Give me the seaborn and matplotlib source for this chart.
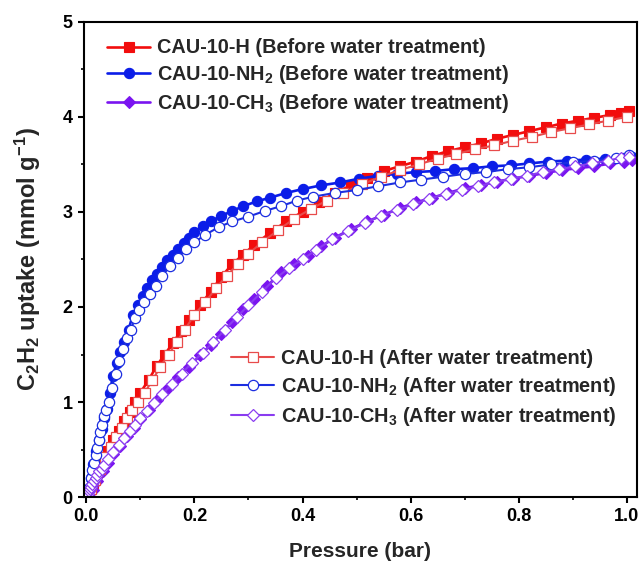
import matplotlib
matplotlib.use("Agg")
import matplotlib.pyplot as plt
import seaborn as sns
from matplotlib.ticker import MultipleLocator, FormatStrFormatter

# C2H2 adsorption isotherms, before / after water treatment
h_before_p = [0.005, 0.012, 0.02, 0.03, 0.04, 0.05, 0.06, 0.07, 0.08, 0.09, 0.10, 0.115, 0.13, 0.145,
              0.16, 0.175, 0.19, 0.21, 0.23, 0.25, 0.27, 0.29, 0.31, 0.34, 0.37, 0.40, 0.43, 0.46,
              0.49, 0.52, 0.55, 0.58, 0.61, 0.64, 0.67, 0.70, 0.73, 0.76, 0.79, 0.82, 0.85, 0.88,
              0.91, 0.94, 0.97, 0.99, 1.005]
h_before_q = [0.0, 0.15, 0.25, 0.37, 0.48, 0.6, 0.7, 0.8, 0.9, 1.0, 1.1, 1.23, 1.38, 1.5,
              1.62, 1.75, 1.86, 2.02, 2.16, 2.32, 2.45, 2.55, 2.65, 2.78, 2.9, 3.0, 3.1, 3.2,
              3.28, 3.36, 3.43, 3.48, 3.53, 3.59, 3.64, 3.68, 3.72, 3.77, 3.81, 3.85, 3.89, 3.93,
              3.96, 3.99, 4.02, 4.04, 4.06]

h_after_p = [0.003, 0.008, 0.015, 0.025, 0.035, 0.045, 0.055, 0.065, 0.075, 0.085, 0.095, 0.108,
             0.122, 0.137, 0.152, 0.167, 0.182, 0.2, 0.22, 0.24, 0.26, 0.28, 0.30, 0.325, 0.355,
             0.385, 0.415, 0.445, 0.475, 0.51, 0.545, 0.58, 0.615, 0.65, 0.685, 0.72, 0.755,
             0.79, 0.825, 0.86, 0.895, 0.93, 0.965, 1.0]
h_after_q = [0.0, 0.08, 0.18, 0.3, 0.42, 0.53, 0.63, 0.73, 0.83, 0.92, 1.0, 1.1,
             1.23, 1.37, 1.5, 1.63, 1.76, 1.92, 2.05, 2.2, 2.33, 2.45, 2.56, 2.68, 2.81,
             2.93, 3.03, 3.12, 3.2, 3.29, 3.37, 3.44, 3.5, 3.56, 3.61, 3.66, 3.7,
             3.75, 3.79, 3.84, 3.88, 3.92, 3.96, 4.0]

nh2_before_p = [0.003, 0.008, 0.013, 0.018, 0.023, 0.028, 0.033, 0.038, 0.043, 0.049, 0.056, 0.063,
                0.07, 0.078, 0.086, 0.095, 0.104, 0.113, 0.122, 0.131, 0.14, 0.15, 0.16, 0.17,
                0.18, 0.19, 0.2, 0.215, 0.23, 0.25, 0.27, 0.29, 0.315, 0.34, 0.37, 0.40, 0.435,
                0.47, 0.505, 0.54, 0.575, 0.61, 0.645, 0.68, 0.715, 0.75, 0.785, 0.82, 0.855,
                0.89, 0.925, 0.96, 0.995, 1.01]
nh2_before_q = [0.03, 0.2, 0.35, 0.48, 0.6, 0.72, 0.83, 0.93, 1.1, 1.27, 1.41, 1.53,
                1.63, 1.76, 1.92, 2.02, 2.12, 2.2, 2.28, 2.35, 2.42, 2.49, 2.55, 2.61,
                2.67, 2.73, 2.79, 2.85, 2.9, 2.96, 3.01, 3.06, 3.11, 3.15, 3.2, 3.24, 3.28,
                3.31, 3.35, 3.38, 3.4, 3.42, 3.43, 3.45, 3.46, 3.48, 3.49, 3.51, 3.53,
                3.54, 3.55, 3.56, 3.57, 3.58]

nh2_after_p = [0.002, 0.005, 0.008, 0.011, 0.014, 0.017, 0.02, 0.023, 0.026, 0.029, 0.032, 0.036,
               0.041, 0.047, 0.054, 0.061, 0.068, 0.075, 0.082, 0.09, 0.098, 0.107, 0.117, 0.128,
               0.14, 0.155, 0.17, 0.185, 0.2, 0.22, 0.245, 0.27, 0.3, 0.33, 0.36, 0.39, 0.42,
               0.46, 0.5, 0.54, 0.58, 0.62, 0.66, 0.7, 0.74, 0.78, 0.82, 0.86, 0.9, 0.94, 0.98,
               1.005]
nh2_after_q = [0.02, 0.1, 0.2, 0.28, 0.36, 0.44, 0.52, 0.6, 0.68, 0.76, 0.85, 0.92,
               1.0, 1.15, 1.3, 1.43, 1.56, 1.67, 1.76, 1.88, 1.97, 2.05, 2.14, 2.22,
               2.33, 2.43, 2.52, 2.61, 2.68, 2.76, 2.84, 2.9, 2.95, 3.01, 3.06, 3.12, 3.16,
               3.2, 3.23, 3.27, 3.31, 3.34, 3.37, 3.4, 3.42, 3.45, 3.47, 3.5, 3.52, 3.54, 3.57,
               3.6]

ch3_before_p = [0.005, 0.012, 0.02, 0.03, 0.04, 0.05, 0.062, 0.075, 0.088, 0.1, 0.115, 0.13,
                0.15, 0.17, 0.19, 0.21, 0.23, 0.25, 0.27, 0.29, 0.31, 0.335, 0.36, 0.385, 0.41,
                0.435, 0.46, 0.49, 0.52, 0.55, 0.58, 0.61, 0.64, 0.67, 0.70, 0.73, 0.76, 0.79,
                0.82, 0.85, 0.88, 0.91, 0.94, 0.97, 0.995, 1.01]
ch3_before_q = [0.0, 0.07, 0.17, 0.27, 0.36, 0.45, 0.54, 0.64, 0.73, 0.82, 0.92, 1.02,
                1.14, 1.26, 1.37, 1.49, 1.6, 1.72, 1.84, 1.98, 2.08, 2.22, 2.37, 2.45, 2.54,
                2.64, 2.73, 2.82, 2.9, 2.97, 3.04, 3.1, 3.15, 3.2, 3.25, 3.28, 3.32, 3.35,
                3.38, 3.41, 3.44, 3.46, 3.48, 3.51, 3.53, 3.55]

ch3_after_p = [0.001, 0.003, 0.005, 0.007, 0.009, 0.011, 0.014, 0.017, 0.02, 0.024, 0.028, 0.033,
               0.04, 0.05, 0.06, 0.07, 0.08, 0.09, 0.1, 0.112, 0.125, 0.14, 0.158, 0.176, 0.195,
               0.215, 0.235, 0.256, 0.278, 0.3, 0.325, 0.35, 0.375, 0.4, 0.425, 0.455, 0.485,
               0.515, 0.545, 0.575, 0.605, 0.635, 0.665, 0.695, 0.725, 0.755, 0.785, 0.815,
               0.845, 0.875, 0.905, 0.935, 0.965, 0.99, 1.005]
ch3_after_q = [0.0, 0.03, 0.06, 0.09, 0.11, 0.14, 0.17, 0.2, 0.23, 0.27, 0.3, 0.34,
               0.4, 0.47, 0.55, 0.62, 0.69, 0.76, 0.83, 0.91, 0.99, 1.08, 1.19, 1.3, 1.41,
               1.52, 1.63, 1.76, 1.89, 2.02, 2.16, 2.3, 2.41, 2.5, 2.6, 2.71, 2.8,
               2.88, 2.96, 3.02, 3.08, 3.14, 3.19, 3.23, 3.27, 3.31, 3.35, 3.38,
               3.42, 3.45, 3.48, 3.51, 3.54, 3.57, 3.58]

before_labels = ["CAU-10-H (Before water treatment)",
                 "CAU-10-NH$_2$ (Before water treatment)",
                 "CAU-10-CH$_3$ (Before water treatment)"]
after_labels = ["CAU-10-H (After water treatment)",
                "CAU-10-NH$_2$ (After water treatment)",
                "CAU-10-CH$_3$ (After water treatment)"]

sns.set_theme(style="ticks")
plt.rcParams["font.family"] = ["Liberation Sans", "DejaVu Sans"]
plt.rcParams["font.weight"] = "bold"
plt.rcParams["mathtext.fontset"] = "custom"
plt.rcParams["mathtext.rm"] = "Liberation Sans:bold"
plt.rcParams["mathtext.bf"] = "Liberation Sans:bold"
plt.rcParams["mathtext.it"] = "Liberation Sans:bold"
plt.rcParams["mathtext.default"] = "bf"

RED, BLUE, PURPLE = "#f20d0d", "#0b1de8", "#7a14f0"
RED_L, BLUE_L, PURPLE_L = "#e84b4b", "#1c2ee0", "#8a3cf0"

fig = plt.figure(figsize=(6.44, 5.74), dpi=100)
ax = fig.add_axes([0.130, 0.134, 0.859, 0.828])

series_before = [
    (h_before_p, h_before_q, RED, "s", 6.8),
    (nh2_before_p, nh2_before_q, BLUE, "o", 7.4),
    (ch3_before_p, ch3_before_q, PURPLE, "D", 6.3),
]
series_after = [
    (h_after_p, h_after_q, RED_L, "s", 6.8),
    (nh2_after_p, nh2_after_q, BLUE_L, "o", 7.4),
    (ch3_after_p, ch3_after_q, PURPLE_L, "D", 6.3),
]

handles_before = []
for (p, q, c, m, ms), lab in zip(series_before, before_labels):
    sns.lineplot(x=p, y=q, ax=ax, color=c, marker=m, markersize=ms, linewidth=1.9,
                 markerfacecolor=c, markeredgecolor=c, markeredgewidth=0.8,
                 sort=False, estimator=None, label=lab, legend=False)
    handles_before.append(ax.lines[-1])

handles_after = []
for (p, q, c, m, ms), lab in zip(series_after, after_labels):
    sns.lineplot(x=p, y=q, ax=ax, color=c, marker=m, markersize=ms, linewidth=1.5,
                 markerfacecolor="white", markeredgecolor=c, markeredgewidth=0.9,
                 sort=False, estimator=None, label=lab, legend=False)
    handles_after.append(ax.lines[-1])

ax.set_xlim(-0.005, 1.019)
ax.set_ylim(0, 5)
ax.xaxis.set_major_locator(MultipleLocator(0.2))
ax.xaxis.set_minor_locator(MultipleLocator(0.1))
ax.yaxis.set_major_locator(MultipleLocator(1))
ax.yaxis.set_minor_locator(MultipleLocator(0.5))
ax.xaxis.set_major_formatter(FormatStrFormatter("%.1f"))
ax.yaxis.set_major_formatter(FormatStrFormatter("%d"))

for s in ax.spines.values():
    s.set_linewidth(1.5)
    s.set_color("black")
ax.tick_params(which="major", direction="out", length=4, width=1.5, labelsize=13,
               colors="black", pad=4)
ax.tick_params(which="minor", direction="out", length=2.5, width=1.2, colors="black")
for t in ax.get_xticklabels() + ax.get_yticklabels():
    t.set_fontweight("bold")

ax.set_xlabel("Pressure (bar)", fontsize=15, fontweight="bold", labelpad=12)
ax.set_ylabel("C$_2$H$_2$ uptake (mmol g$^{-1}$)", fontsize=17, fontweight="bold", labelpad=14)

leg1 = ax.legend(handles=handles_before, labels=before_labels, loc="upper left",
                 bbox_to_anchor=(0.02, 0.99), frameon=False, fontsize=14.3,
                 handlelength=2.2, handletextpad=0.35, labelspacing=0.3, borderaxespad=0.2)
for t in leg1.get_texts():
    t.set_fontweight("bold")
ax.add_artist(leg1)

leg2 = ax.legend(handles=handles_after, labels=after_labels, loc="lower right",
                 bbox_to_anchor=(0.985, 0.12), frameon=False, fontsize=14.3,
                 handlelength=2.2, handletextpad=0.35, labelspacing=0.35, borderaxespad=0.2)
for t in leg2.get_texts():
    t.set_fontweight("bold")

fig.savefig("out.png", dpi=100)
